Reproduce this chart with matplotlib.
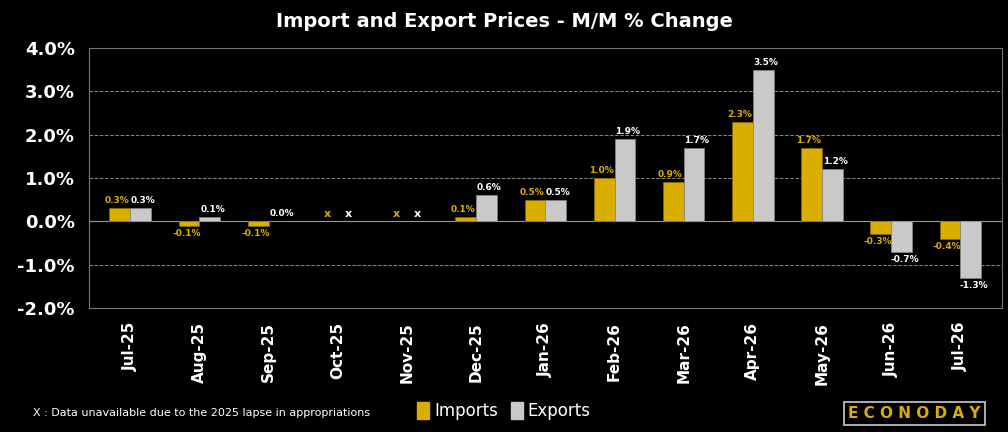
import matplotlib.pyplot as plt
import numpy as np

months = ['Jul-25', 'Aug-25', 'Sep-25', 'Oct-25', 'Nov-25', 'Dec-25', 'Jan-26',
          'Feb-26', 'Mar-26', 'Apr-26', 'May-26', 'Jun-26', 'Jul-26']
imports = [0.3, -0.1, -0.1, None, None, 0.1, 0.5, 1.0, 0.9, 2.3, 1.7, -0.3, -0.4]
exports = [0.3, 0.1, 0.0, None, None, 0.6, 0.5, 1.9, 1.7, 3.5, 1.2, -0.7, -1.3]

gold = '#D9AE00'
silver = '#C9C9C9'

fig = plt.figure(figsize=(10.08, 4.32), dpi=100, facecolor='black')
ax = fig.add_axes([0.088, 0.287, 0.906, 0.602], facecolor='black')

x = np.arange(len(months))
w = 0.3
for i in range(len(months)):
    if imports[i] is None:
        ax.text(x[i] - w / 2, 0.18, 'x', color=gold, ha='center', va='center', fontsize=8, fontweight='bold')
        ax.text(x[i] + w / 2, 0.18, 'x', color='white', ha='center', va='center', fontsize=8, fontweight='bold')
        continue
    ax.bar(x[i] - w / 2, imports[i], w, color=gold, edgecolor='#8a6d00', linewidth=0.5, zorder=3)
    ax.bar(x[i] + w / 2, exports[i], w, color=silver, edgecolor='#888888', linewidth=0.5, zorder=3)
    for xv, v, c in [(x[i] - w / 2 - 0.04, imports[i], gold), (x[i] + w / 2 + 0.04, exports[i], 'white')]:
        up = v >= 0
        ax.text(xv, v + (0.07 if up else -0.07), f'{v:.1f}%', color=c, ha='center',
                va='bottom' if up else 'top', fontsize=6.5, fontweight='bold', zorder=4)

ax.set_xlim(-0.6, len(months) - 0.4)
ax.set_ylim(-2.0, 4.0)
ax.set_yticks(np.arange(-2, 4.1, 1))
ax.set_yticklabels([f'{v:.1f}%' for v in np.arange(-2, 4.1, 1)], color='white', fontsize=13, fontweight='bold')
ax.set_xticks(x)
ax.set_xticklabels(months, rotation=90, color='white', fontsize=11, fontweight='bold')
ax.tick_params(length=0, pad=10)
ax.grid(axis='y', color='#888888', linestyle='--', linewidth=0.7, zorder=0)
ax.axhline(0, color='#999999', linewidth=0.8, zorder=2)
for s in ax.spines.values():
    s.set_color('#777777')
    s.set_linewidth(0.8)

fig.text(0.5, 0.95, 'Import and Export Prices - M/M % Change', color='white', ha='center', va='center',
         fontsize=14, fontweight='bold')
fig.text(0.033, 0.045, 'X : Data unavailable due to the 2025 lapse in appropriations', color='white',
         fontsize=8, va='center')

handles = [plt.Rectangle((0, 0), 1, 1, color=gold), plt.Rectangle((0, 0), 1, 1, color=silver)]
leg = fig.legend(handles, ['Imports', 'Exports'], loc='center', bbox_to_anchor=(0.5, 0.048), ncol=2,
                 frameon=False, fontsize=12, handlelength=0.7, handleheight=1.2, handletextpad=0.3,
                 columnspacing=0.8)
for t in leg.get_texts():
    t.set_color('white')

fig.text(0.907, 0.042, 'E C O N O D A Y', color=gold, ha='center', va='center', fontsize=11, fontweight='bold',
         family='DejaVu Sans', bbox=dict(facecolor='black', edgecolor='#cccccc', linewidth=1.2, pad=3))

fig.savefig('out.png', dpi=100, facecolor='black')
